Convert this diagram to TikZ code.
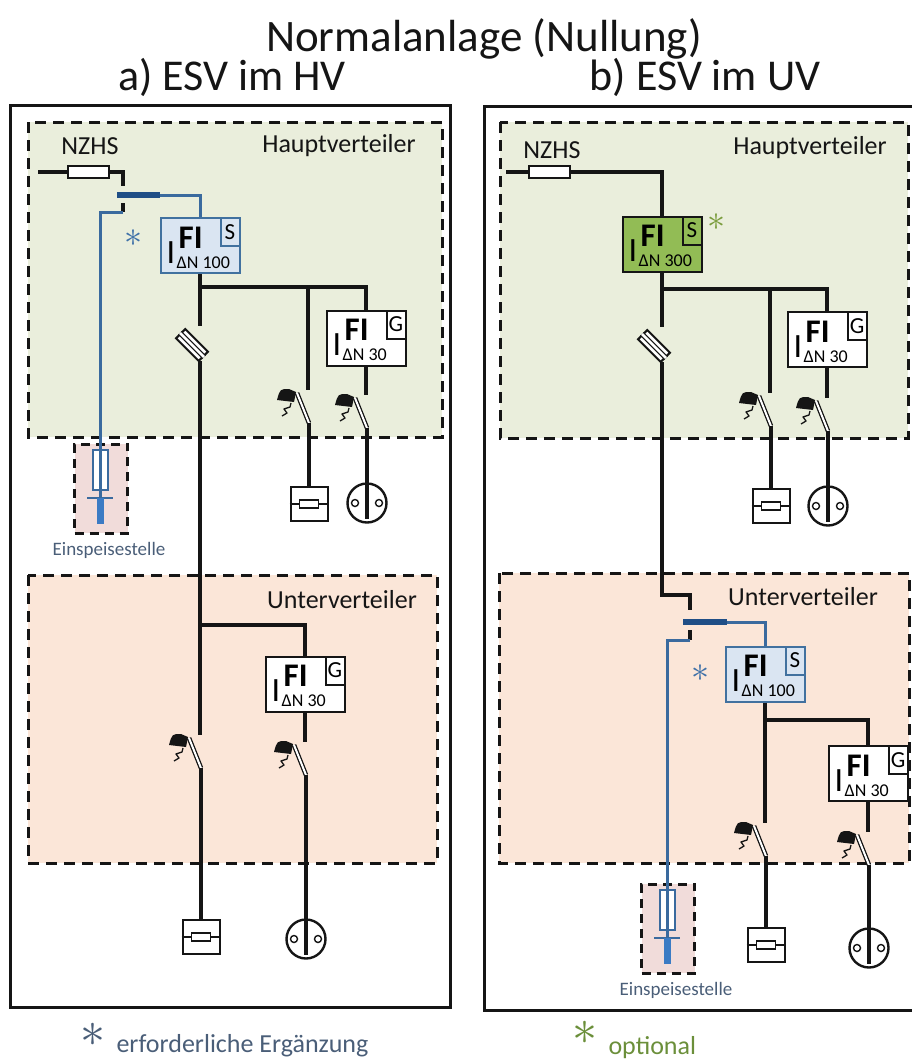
\documentclass[tikz,border=0pt]{standalone}
\usepackage{fontspec}
\setmainfont{Carlito}
\usepackage{xcolor}
\usepackage{graphicx}
\usepackage{tikz}
\usetikzlibrary{positioning,shapes,calc}

\definecolor{hvgreen}{HTML}{EAEEDC}
\definecolor{uvpeach}{HTML}{FBE6D8}
\definecolor{espink}{HTML}{F1DCDA}
\definecolor{fiblue}{HTML}{DAE5F2}
\definecolor{fiframe}{HTML}{41719F}
\definecolor{figreen}{HTML}{92BC55}
\definecolor{bluewire}{HTML}{3A6A9E}
\definecolor{barblue}{HTML}{1F4E86}
\definecolor{feedblue}{HTML}{3B7BC4}
\definecolor{astblue}{HTML}{3E70A8}
\definecolor{legblue}{HTML}{4A5E78}
\definecolor{astgreen}{HTML}{7A9C3C}
\definecolor{leggreen}{HTML}{6B8F3A}
\definecolor{ink}{HTML}{151515}

\newcommand{\fsz}[1]{\fontsize{#1}{#1}\selectfont}
\newcommand{\stern}[1]{\scalebox{#1}{$\ast$}}

\newcommand{\fibox}[6]{%
    \node[fi frame, fill = #5, draw = #6] (#1) at (#2) {};
    \node[anchor = base west, inner sep = 0pt, font = \fsz{34}] (#1-i) at ($(#1.north west)+(7,46)$) {I};
    \node[anchor = base west, inner sep = 0pt, font = {\fsz{33}\bfseries}] (#1-f) at ($(#1.north west)+(19,31)$) {FI};
    \node[anchor = base west, inner sep = 0pt, font = \fsz{18}] (#1-n) at ($(#1.north west)+(17,51)$) {ΔN #4};
    \node[fi type, draw = #6, anchor = north east] (#1-t) at (#1.north east) {#3};
}

\newcommand{\lss}[2]{%
    \coordinate (#1t) at (#2);
    \coordinate (#1k) at ($(#1t)+(-11,3)$);
    \coordinate (#1b) at ($(#1t)+(1,33)$);
    \draw[blade] (#1k) -- (#1b);
    \fill[ink] ($(#1t)+(-12,2)$) -- ($(#1t)+(-19,-1)$) .. controls ($(#1t)+(-28,-1)$) .. ($(#1t)+(-31,10)$) -- ($(#1t)+(-14,12)$) -- cycle;
    \draw[ink, line width = 1.3pt, line join = round] ($(#1t)+(-26,26)$) -- ($(#1t)+(-21,23)$) -- ($(#1t)+(-24,19)$) -- ($(#1t)+(-18,17)$) -- ($(#1t)+(-17,13)$);
}

\newcommand{\sicherung}[2]{%
    \coordinate (#1t) at (#2);
    \node[blade fuse] (#1) at ($(#1t)+(-8,19)$) {};
    \draw[ink, line width = 1.2pt, double = white, double distance = 2.6pt] (#1.west) -- (#1.east);
    \coordinate (#1b) at ($(#1t)+(0,35)$);
}

\newcommand{\geraet}[2]{%
    \node[load box] (#1) at (#2) {};
    \draw[ink, line width = 1.6pt] (#1.west) -- (#1.east);
    \node[heat] (#1-r) at (#1) {};
}

\newcommand{\steckdose}[2]{%
    \node[socket] (#1) at (#2) {};
    \draw[ink, line width = 4.5pt] (#1.north) -- ($(#1.center)+(0,16)$);
    \node[contact] (#1-l) at ($(#1.center)+(-12,0)$) {};
    \node[contact] (#1-r) at ($(#1.center)+(12,0)$) {};
}

\newcommand{\einsp}[2]{%
    \coordinate (#1o) at (#2);
    \node[es frame, anchor = north] (#1) at ($(#1o)+(1,0)$) {};
    \node[es fuse, anchor = north] (#1-f) at ($(#1o)+(0,6)$) {};
    \coordinate (#1q) at ($(#1o)+(0,55)$);
    \draw[bluewire, line width = 2.2pt] ($(#1q)+(-13,0)$) -- ($(#1q)+(13,0)$);
    \draw[feed] (#1q) -- ($(#1o)+(0,81)$);
    \node[es label] (#1-l) at ($(#1.south)+(8,16)$) {Einspeisestelle};
}

\begin{document}
\begin{tikzpicture}[x = 1pt, y = -1pt,
    wire/.style = {line width = 3.2pt, draw = ink},
    bwire/.style = {line width = 3pt, draw = bluewire},
    bar/.style = {line width = 6pt, draw = barblue},
    feed/.style = {line width = 7pt, draw = feedblue},
    blade/.style = {line width = 1.3pt, double = white, double distance = 2pt, draw = ink},
    panel/.style = {line width = 3pt, draw = ink},
    area/.style = {line width = 3pt, draw = ink, dash pattern = on 11pt off 7pt},
    area label/.style = {font = \fsz{26}, text = ink},
    star/.style = {inner sep = 0pt},
    fi frame/.style = {rectangle, minimum width = 79pt, minimum height = 55pt, inner sep = 0pt, line width = 2pt},
    fi type/.style = {rectangle, minimum width = 19pt, minimum height = 28pt, inner sep = 0pt, line width = 2pt, font = \fsz{23}},
    nzhs fuse/.style = {rectangle, draw = ink, fill = white, line width = 2pt, minimum width = 41pt, minimum height = 12pt, inner sep = 0pt},
    blade fuse/.style = {rectangle, draw = ink, fill = white, line width = 2pt, minimum width = 32pt, minimum height = 13pt, inner sep = 0pt, rotate = -45},
    load box/.style = {rectangle, draw = ink, fill = white, line width = 2pt, minimum width = 37pt, minimum height = 34pt, inner sep = 0pt},
    heat/.style = {rectangle, draw = ink, fill = white, line width = 1.6pt, minimum width = 19pt, minimum height = 8pt, inner sep = 0pt},
    socket/.style = {circle, draw = ink, fill = white, line width = 2.4pt, minimum size = 39pt, inner sep = 0pt},
    contact/.style = {circle, draw = ink, fill = white, line width = 1.4pt, minimum size = 7pt, inner sep = 0pt},
    es frame/.style = {rectangle, draw = ink, fill = espink, line width = 2.6pt, dash pattern = on 9pt off 6pt, minimum width = 53pt, minimum height = 89pt, inner sep = 0pt},
    es fuse/.style = {rectangle, draw = bluewire, fill = white, line width = 2pt, minimum width = 15pt, minimum height = 40pt, inner sep = 0pt},
    es label/.style = {font = \fsz{19}, text = legblue}]
    \useasboundingbox (0,0) rectangle (912,1061);
    \clip (0,0) rectangle (912,1061);
    \node[font = \fsz{45}, text = ink] (title) at (484,39) {Normalanlage (Nullung)};
    \node[font = \fsz{44}, text = ink] (title-a) at (232,77) {a) ESV im HV};
    \node[font = \fsz{44}, text = ink] (title-b) at (705,77) {b) ESV im UV};
    \draw[panel] (10,105) rectangle (450,1007);
    \draw[panel] (484,106) rectangle (925,1010);
    \draw[area, fill = hvgreen] (28,122) rectangle (442,437);
    \draw[area, fill = uvpeach] (28,575) rectangle (437,863);
    \draw[area, fill = hvgreen] (500,122) rectangle (908,438);
    \draw[area, fill = uvpeach] (499,573) rectangle (909,863);
    \node[area label] (aHV) at (339,146) {Hauptverteiler};
    \node[area label] (aUV) at (342,600) {Unterverteiler};
    \node[area label] (bHV) at (810,148) {Hauptverteiler};
    \node[area label] (bUV) at (803,597) {Unterverteiler};
    \node[area label] (aNZl) at (90,146) {NZHS};
    \node[area label] (bNZl) at (552,150) {NZHS};

    \einsp{aES}{100,443}
    \einsp{bES}{667,883}

    \fibox{aFI}{200,245.5}{S}{100}{fiblue}{fiframe}
    \fibox{aFIG1}{366,338}{G}{30}{white}{ink}
    \fibox{aFIG2}{305,684}{G}{30}{white}{ink}
    \fibox{bFI3}{662,244}{S}{300}{figreen}{ink}
    \fibox{bFIG1}{827,339.5}{G}{30}{white}{ink}
    \fibox{bFI1}{765,674}{S}{100}{fiblue}{fiframe}
    \fibox{bFIG2}{868,773.5}{G}{30}{white}{ink}

    \node[nzhs fuse] (aNZ) at (88,172) {};
    \node[nzhs fuse] (bNZ) at (549,172) {};
    \coordinate (aIn) at (38,172);
    \coordinate (bIn) at (506,172);

    \sicherung{aF1}{200,326}
    \sicherung{bF1}{662,327}

    \lss{aQ1}{308,390}
    \lss{aQ2}{366,395}
    \lss{aQ3}{200,735}
    \lss{aQ4}{305,742}
    \lss{bQ1}{770,393}
    \lss{bQ2}{827,398}
    \lss{bQ3}{765,823}
    \lss{bQ4}{868,832}

    \geraet{aL1}{309,504}
    \steckdose{aS1}{367,503}
    \geraet{aL2}{201,937}
    \steckdose{aS2}{306,939}
    \geraet{bL1}{771,506}
    \steckdose{bS1}{828,506}
    \geraet{bL2}{766,945}
    \steckdose{bS2}{869,948}

    \draw[wire] (aIn) -- (aNZ);
    \coordinate (aK1) at (123,186);
    \draw[wire] (aNZ) -| (aK1);
    \coordinate (aB1) at (117,195);
    \coordinate (aB2) at (160,195);
    \draw[bwire] (aB2) -| (aFI);
    \draw[bar] (aB1) -- (aB2);
    \coordinate (aK2) at (123,203);
    \coordinate (aK3) at (123,212);
    \draw[wire] (aK2) -- (aK3);
    \draw[bwire] (aK3) -| (aESq);
    \coordinate (aJ1) at (200,287);
    \draw[wire] (aFI) -- (aJ1) -| (aFIG1);
    \draw[wire] (aQ1t |- aJ1) -- (aQ1t);
    \draw[wire] (aFIG1) -- (aQ2t);
    \draw[wire] (aJ1) -- (aF1t);
    \draw[wire] (aQ1b) -- (aL1);
    \draw[wire] (aQ2b) -- (aS1);
    \coordinate (aJ2) at (200,625);
    \draw[wire] (aF1b) -- (aJ2) -| (aFIG2);
    \draw[wire] (aJ2) -- (aQ3t);
    \draw[wire] (aFIG2) -- (aQ4t);
    \draw[wire] (aQ3b) -- (aL2);
    \draw[wire] (aQ4b) -- (aS2);

    \draw[wire] (bIn) -- (bNZ);
    \draw[wire] (bNZ) -| (bFI3);
    \coordinate (bJ1) at (662,289);
    \draw[wire] (bFI3) -- (bJ1) -| (bFIG1);
    \draw[wire] (bQ1t |- bJ1) -- (bQ1t);
    \draw[wire] (bFIG1) -- (bQ2t);
    \draw[wire] (bQ1b) -- (bL1);
    \draw[wire] (bQ2b) -- (bS1);
    \draw[wire] (bJ1) -- (bF1t);
    \coordinate (bK0) at (662,595);
    \coordinate (bK1) at (690,610);
    \draw[wire] (bF1b) -- (bK0) -| (bK1);
    \coordinate (bB1) at (683,622);
    \coordinate (bB2) at (727,622);
    \draw[bwire] (bB2) -| (bFI1);
    \draw[bar] (bB1) -- (bB2);
    \coordinate (bK2) at (690,630);
    \coordinate (bK3) at (690,640);
    \draw[wire] (bK2) -- (bK3);
    \draw[bwire] (bK3) -| (bESq);
    \coordinate (bJ2) at (765,720);
    \draw[wire] (bFI1) -- (bJ2) -| (bFIG2);
    \draw[wire] (bJ2) -- (bQ3t);
    \draw[wire] (bFIG2) -- (bQ4t);
    \draw[wire] (bQ3b) -- (bL2);
    \draw[wire] (bQ4b) -- (bS2);

    \node[star, text = astblue] (aStar) at (133,238) {\stern{3.6}};
    \node[star, text = astgreen] (bStar) at (716,222) {\stern{3.6}};
    \node[star, text = astblue] (bStar2) at (700,673) {\stern{3.6}};
    \node[star, text = legblue] (legA-s) at (93,1035) {\stern{5}};
    \node[font = \fsz{26}, text = legblue, anchor = west] (legA) at (113,1046) {erforderliche Ergänzung};
    \node[star, text = leggreen] (legB-s) at (585,1033) {\stern{5}};
    \node[font = \fsz{26}, text = leggreen, anchor = west] (legB) at (605,1048) {optional};
    \end{tikzpicture}
\end{document}
